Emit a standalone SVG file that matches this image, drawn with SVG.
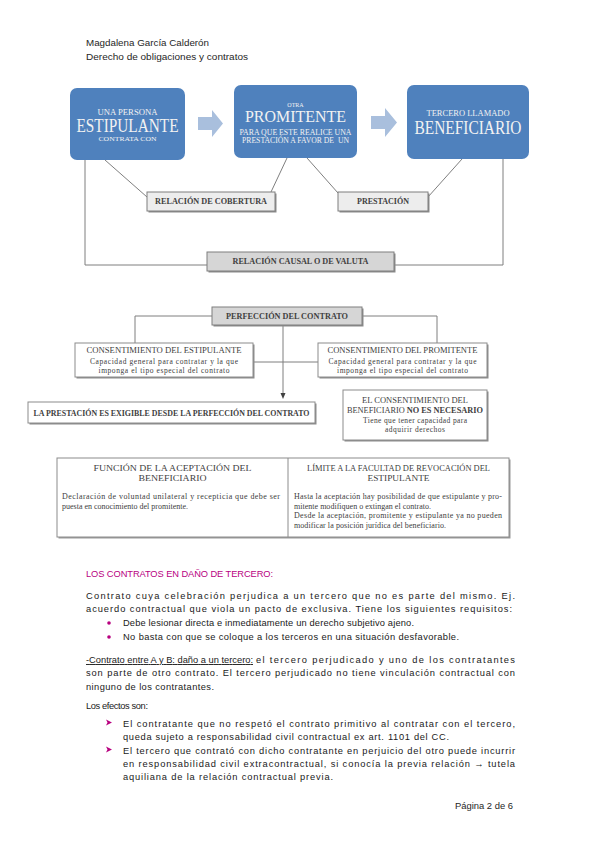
<svg xmlns="http://www.w3.org/2000/svg" width="599" height="848" viewBox="0 0 599 848">
<style>
.hdr{font-family:"Liberation Sans",Arial,sans-serif;font-size:9px;fill:#262626}
.blue{fill:#4F81BD}
.arrow{fill:#A9BFDD}
.wt{font-family:"Liberation Serif","Times New Roman",serif;fill:#F2F2F2;text-anchor:middle}
.ln{stroke:#7F7F7F;stroke-width:1;fill:none}
.shadow{fill:#8C8C8C}
.lbox{fill:#EDEDED;stroke:#7F7F7F;stroke-width:1}
.gbox{fill:#D6D6D6;stroke:#7F7F7F;stroke-width:1}
.wbox{fill:#FFFFFF;stroke:#8C8C8C;stroke-width:1}
.lb{font-family:"Liberation Serif","Times New Roman",serif;font-size:7.5px;font-weight:bold;fill:#404040;text-anchor:middle}
.sc{font-family:"Liberation Serif","Times New Roman",serif;font-size:7.5px;fill:#404040;text-anchor:middle}
.sr{font-family:"Liberation Serif","Times New Roman",serif;font-size:8px;fill:#404040}
.body{font-family:"Liberation Sans",Arial,sans-serif;font-size:9.3px;fill:#1A1A1A}
.mag{fill:#B8007F}
</style>

<g id="header">
<text class="hdr" x="86" y="46" textLength="123" lengthAdjust="spacingAndGlyphs">Magdalena García Calderón</text>
<text class="hdr" x="86" y="60" textLength="162" lengthAdjust="spacingAndGlyphs">Derecho de obligaciones y contratos</text>
</g>

<g id="connectors">
<polygon class="arrow" points="198,117 212,117 212,110 223,123.5 212,137 212,130 198,130"/>
<polygon class="arrow" points="371,116 385,116 385,108 397,122.5 385,137 385,129 371,129"/>
<line class="ln" x1="105" y1="160" x2="147" y2="197"/>
<line class="ln" x1="287" y1="158" x2="271" y2="192"/>
<line class="ln" x1="307" y1="158" x2="338" y2="193"/>
<line class="ln" x1="462" y1="159" x2="428" y2="197"/>
<polyline class="ln" points="85,160 85,265 207,265"/>
<polyline class="ln" points="503,159 503,265 394,265"/>
<polyline class="ln" points="212,316 135,316 135,343"/>
<polyline class="ln" points="362,316 437,316 437,343"/>
<line class="ln" x1="253" y1="362" x2="318" y2="362"/>
<line class="ln" x1="283" y1="325" x2="283" y2="394"/>
<polygon points="280.5,393 285.5,393 283,399" fill="#404040"/>
</g>

<g id="estipulante">
<rect class="blue" x="70" y="88" width="115" height="72" rx="7"/>
<text class="wt" x="127.5" y="115" font-size="8.5" textLength="60" lengthAdjust="spacingAndGlyphs">UNA PERSONA</text>
<text class="wt" x="127.5" y="132" font-size="18" textLength="102" lengthAdjust="spacingAndGlyphs">ESTIPULANTE</text>
<text class="wt" x="127.5" y="141" font-size="7" textLength="58" lengthAdjust="spacingAndGlyphs">CONTRATA CON</text>
</g>

<g id="promitente">
<rect class="blue" x="234" y="85" width="123" height="73" rx="7"/>
<text class="wt" x="295.5" y="107" font-size="6">OTRA</text>
<text class="wt" x="295.5" y="122" font-size="17" textLength="101" lengthAdjust="spacingAndGlyphs">PROMITENTE</text>
<text class="wt" x="295.5" y="134.5" font-size="8" textLength="112" lengthAdjust="spacingAndGlyphs">PARA QUE ESTE REALICE UNA</text>
<text class="wt" x="295.5" y="142.5" font-size="8" textLength="107" lengthAdjust="spacingAndGlyphs" xml:space="preserve">PRESTACIÓN A FAVOR DE  UN</text>
</g>

<g id="beneficiario">
<rect class="blue" x="407" y="85" width="122" height="74" rx="7"/>
<text class="wt" x="468" y="116" font-size="8" textLength="83" lengthAdjust="spacingAndGlyphs">TERCERO LLAMADO</text>
<text class="wt" x="468" y="134" font-size="18" textLength="107" lengthAdjust="spacingAndGlyphs">BENEFICIARIO</text>
</g>

<g id="cobertura">
<rect class="shadow" x="148.5" y="193.5" width="128" height="19"/>
<rect class="lbox" x="147" y="192" width="128" height="19"/>
<text class="lb" x="211" y="204" textLength="112" lengthAdjust="spacingAndGlyphs">RELACIÓN DE COBERTURA</text>
</g>

<g id="prestacion">
<rect class="shadow" x="339.5" y="193.5" width="90" height="19"/>
<rect class="lbox" x="338" y="192" width="90" height="19"/>
<text class="lb" x="383" y="204" textLength="52" lengthAdjust="spacingAndGlyphs">PRESTACIÓN</text>
</g>

<g id="causal">
<rect class="shadow" x="208.5" y="253.5" width="187" height="19"/>
<rect class="gbox" x="207" y="252" width="187" height="19"/>
<text class="lb" x="300.5" y="264" textLength="136" lengthAdjust="spacingAndGlyphs">RELACIÓN CAUSAL O DE VALUTA</text>
</g>

<g id="perfeccion">
<rect class="shadow" x="213.5" y="308.5" width="150" height="18"/>
<rect class="gbox" x="212" y="307" width="150" height="18"/>
<text class="lb" x="287" y="319" textLength="122" lengthAdjust="spacingAndGlyphs">PERFECCIÓN DEL CONTRATO</text>
</g>

<g id="consent-estipulante">
<rect class="shadow" x="76.5" y="344.5" width="178" height="34"/>
<rect class="wbox" x="75" y="343" width="178" height="34"/>
<text class="sc" x="164" y="353" textLength="155" lengthAdjust="spacingAndGlyphs">CONSENTIMIENTO DEL ESTIPULANTE</text>
<text class="sc" x="164" y="364" textLength="148" lengthAdjust="spacing">Capacidad general para contratar y la que</text>
<text class="sc" x="164" y="372.5" textLength="131" lengthAdjust="spacing">imponga el tipo especial del contrato</text>
</g>

<g id="consent-promitente">
<rect class="shadow" x="319.5" y="344.5" width="169" height="34"/>
<rect class="wbox" x="318" y="343" width="169" height="34"/>
<text class="sc" x="402.5" y="353" textLength="150" lengthAdjust="spacingAndGlyphs">CONSENTIMIENTO DEL PROMITENTE</text>
<text class="sc" x="402.5" y="364" textLength="148" lengthAdjust="spacing">Capacidad general para contratar y la que</text>
<text class="sc" x="402.5" y="372.5" textLength="131" lengthAdjust="spacing">imponga el tipo especial del contrato</text>
</g>

<g id="exigible">
<rect class="shadow" x="29.5" y="403.5" width="287" height="21"/>
<rect class="wbox" x="28" y="402" width="287" height="21"/>
<text class="lb" x="171.5" y="415.5" textLength="276" lengthAdjust="spacingAndGlyphs">LA PRESTACIÓN ES EXIGIBLE DESDE LA PERFECCIÓN DEL CONTRATO</text>
</g>

<g id="consent-beneficiario">
<rect class="shadow" x="344.5" y="391.5" width="144" height="50"/>
<rect class="wbox" x="343" y="390" width="144" height="50"/>
<text class="sc" x="415" y="402.5" textLength="106" lengthAdjust="spacingAndGlyphs">EL CONSENTIMIENTO DEL</text>
<text class="sc" x="415" y="412.5" textLength="136" lengthAdjust="spacingAndGlyphs">BENEFICIARIO <tspan font-weight="bold">NO ES NECESARIO</tspan></text>
<text class="sc" x="415" y="422.5" textLength="104" lengthAdjust="spacing">Tiene que tener capacidad para</text>
<text class="sc" x="415" y="431.5" textLength="60" lengthAdjust="spacing">adquirir derechos</text>
</g>

<g id="tabla">
<rect x="58.5" y="459.5" width="452" height="79" fill="#9A9A9A"/>
<rect x="57" y="458" width="452" height="79" fill="#FFFFFF" stroke="#8C8C8C" stroke-width="1"/>
<line x1="288" y1="458" x2="288" y2="537" stroke="#8C8C8C" stroke-width="1"/>
<text class="sc" x="172.5" y="471" textLength="158" lengthAdjust="spacingAndGlyphs">FUNCIÓN DE LA ACEPTACIÓN DEL</text>
<text class="sc" x="172.5" y="480.5" textLength="68" lengthAdjust="spacingAndGlyphs">BENEFICIARIO</text>
<text class="sr" x="62" y="499" textLength="218" lengthAdjust="spacing">Declaración de voluntad unilateral y recepticia que debe ser</text>
<text class="sr" x="62" y="508.5" textLength="126" lengthAdjust="spacing">puesta en conocimiento del promitente.</text>
<text class="sc" x="398.5" y="471" textLength="183" lengthAdjust="spacingAndGlyphs">LÍMITE A LA FACULTAD DE REVOCACIÓN DEL</text>
<text class="sc" x="398.5" y="480.5" textLength="62" lengthAdjust="spacingAndGlyphs">ESTIPULANTE</text>
<text class="sr" x="294" y="499" textLength="208" lengthAdjust="spacing">Hasta la aceptación hay posibilidad de que estipulante y pro-</text>
<text class="sr" x="294" y="508.5" textLength="137" lengthAdjust="spacing">mitente modifiquen o extingan el contrato.</text>
<text class="sr" x="294" y="518" textLength="208" lengthAdjust="spacing">Desde la aceptación, promitente y estipulante ya no pueden</text>
<text class="sr" x="294" y="527.5" textLength="152" lengthAdjust="spacing">modificar la posición jurídica del beneficiario.</text>
</g>

<g id="texto">
<text class="body mag" x="86" y="577" font-size="8.5" textLength="187" lengthAdjust="spacing">LOS CONTRATOS EN DAÑO DE TERCERO:</text>
<text class="body" x="86" y="599" textLength="429" lengthAdjust="spacing">Contrato cuya celebración perjudica a un tercero que no es parte del mismo. Ej.</text>
<text class="body" x="86" y="612" textLength="426" lengthAdjust="spacing">acuerdo contractual que viola un pacto de exclusiva. Tiene los siguientes requisitos:</text>
<circle class="mag" cx="109" cy="623" r="1.8"/>
<text class="body" x="123" y="626" textLength="291" lengthAdjust="spacing">Debe lesionar directa e inmediatamente un derecho subjetivo ajeno.</text>
<circle class="mag" cx="109" cy="637" r="1.8"/>
<text class="body" x="123" y="640" textLength="336" lengthAdjust="spacing">No basta con que se coloque a los terceros en una situación desfavorable.</text>
<text class="body" x="86" y="663" text-decoration="underline" textLength="167" lengthAdjust="spacing">-Contrato entre A y B: daño a un tercero:</text>
<text class="body" x="256" y="663" textLength="259" lengthAdjust="spacing">el tercero perjudicado y uno de los contratantes</text>
<text class="body" x="86" y="676" textLength="429" lengthAdjust="spacing">son parte de otro contrato. El tercero perjudicado no tiene vinculación contractual con</text>
<text class="body" x="86" y="690" textLength="128" lengthAdjust="spacing">ninguno de los contratantes.</text>
<text class="body" x="86" y="709" textLength="62" lengthAdjust="spacing">Los efectos son:</text>
<polygon class="mag" points="106,719.5 112,722.5 106,725.5 107.5,722.5"/>
<text class="body" x="123" y="727" textLength="392" lengthAdjust="spacing">El contratante que no respetó el contrato primitivo al contratar con el tercero,</text>
<text class="body" x="123" y="740" textLength="326" lengthAdjust="spacing">queda sujeto a responsabilidad civil contractual ex art. 1101 del CC.</text>
<polygon class="mag" points="106,746.5 112,749.5 106,752.5 107.5,749.5"/>
<text class="body" x="123" y="754" textLength="392" lengthAdjust="spacing">El tercero que contrató con dicho contratante en perjuicio del otro puede incurrir</text>
<text class="body" x="123" y="767" textLength="392" lengthAdjust="spacing">en responsabilidad civil extracontractual, si conocía la previa relación → tutela</text>
<text class="body" x="123" y="780" textLength="210" lengthAdjust="spacing">aquiliana de la relación contractual previa.</text>
</g>

<g id="footer">
<text class="hdr" x="513" y="809" text-anchor="end" textLength="58" lengthAdjust="spacingAndGlyphs">Página 2 de 6</text>
</g>
</svg>
